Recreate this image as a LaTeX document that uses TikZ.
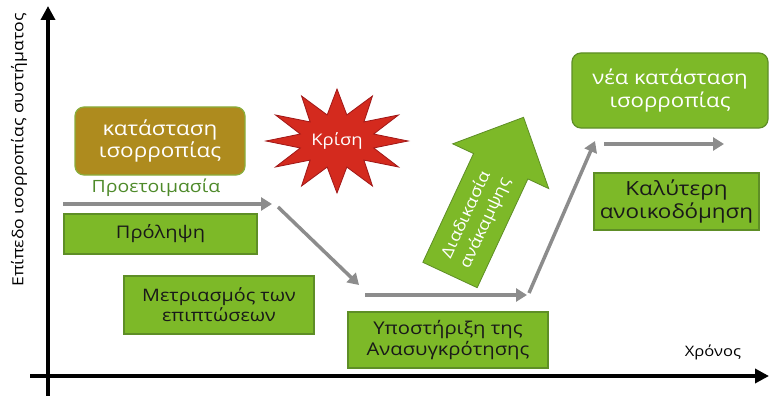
\documentclass[tikz,border=0pt]{standalone}
\usepackage{fontspec}
\setmainfont[FakeStretch=1.15]{Open Sans}
\usetikzlibrary{arrows.meta}
\definecolor{grn}{HTML}{7DB928}
\definecolor{grndark}{HTML}{5E8E26}
\definecolor{olive}{HTML}{AE8B1E}
\definecolor{olivebrd}{HTML}{8AAE3C}
\definecolor{starred}{HTML}{D42A1E}
\definecolor{stardark}{HTML}{A01818}
\definecolor{arrgray}{HTML}{8C8C8C}
\definecolor{prepgreen}{HTML}{4E8A2A}
\newcommand{\fsz}[1]{\fontsize{#1}{1.15\dimexpr #1pt\relax}\selectfont}
\tikzset{
  gbox/.style={fill=grn, draw=grndark, line width=1.2pt, text=black!90, align=center, inner sep=0pt},
  rbox/.style={gbox, rounded corners=9pt, text=white},
  garrow/.style={draw=arrgray, line width=3.5pt, -{Triangle[length=11pt,width=13pt]}},
  axis/.style={draw=black, line width=3.5pt},
}
\begin{document}
\begin{tikzpicture}[x=1pt,y=-1pt]
\path[use as bounding box] (0,0) rectangle (769,396);
% axes
\coordinate (yb) at (48,396);
\coordinate (yt) at (48,6);
\coordinate (xl) at (30,376);
\coordinate (xr) at (769,376);
\draw[axis,-{Triangle[length=14pt,width=14pt]}] (yb) -- (yt);
\draw[axis,-{Triangle[length=14pt,width=14pt]}] (xl) -- (xr);
\node[rotate=90, font=\fsz{15.3}] (ylab) at (19,150) {Επίπεδο ισορροπίας συστήματος};
\node[font=\fsz{14.4}] (xlab) at (713,352) {Χρόνος};
% boxes
\node[rbox, fill=olive, draw=olivebrd, minimum width=170pt, minimum height=68pt, font=\fsz{19.5}] (kat) at (160,141) {κατάσταση\\ισορροπίας};
\node[text=prepgreen, font=\fsz{16.9}] (prep) at (156,188) {Προετοιμασία};
\node[gbox, minimum width=193pt, minimum height=40pt, font=\fsz{17.4}] (prol) at (160.5,234) {Πρόληψη};
\node[gbox, minimum width=190pt, minimum height=58pt, font=\fsz{17.2}] (metr) at (219,305) {Μετριασμός των\\επιπτώσεων};
\node[gbox, minimum width=200pt, minimum height=56pt, font=\fsz{17.6}] (ypos) at (448,340) {Υποστήριξη της\\Ανασυγκρότησης};
\node[rbox, minimum width=196pt, minimum height=75pt, font=\fsz{19.3}] (nea) at (670,90.5) {νέα κατάσταση\\ισορροπίας};
\node[gbox, minimum width=165pt, minimum height=57pt, font=\fsz{19.5}] (kal) at (676.5,201.5) {Καλύτερη\\ανοικοδόμηση};
% star
\coordinate (starc) at (337,141);
\fill[starred, draw=stardark, line width=0.8pt] plot[domain=0:360, samples=25]
  ({337+(38+33*(1-mod(round(\x/15),2)))*cos(\x)}, {141+(27+25*(1-mod(round(\x/15),2)))*sin(\x)}) -- cycle;
\node[text=white, font=\fsz{16}] (kris) at (starc) {Κρίση};
% big recovery arrow
\begin{scope}[shift={(450,275)}, rotate=65]
\fill[grn, draw=grndark, line width=0.8pt] (0,-30) -- (120,-30) -- (120,-53) -- (174,0) -- (120,53) -- (120,30) -- (0,30) -- cycle;
\end{scope}
\node[rotate=65, text=white, align=center, font=\fontsize{16}{21}\selectfont] (diad) at (476,219) {Διαδικασία\\ανάκαμψης};
% gray arrows
\coordinate (a1s) at (63,204);
\coordinate (a1e) at (272,204);
\coordinate (a2s) at (278,207);
\coordinate (a2e) at (359,285);
\coordinate (a3s) at (365,295);
\coordinate (a3e) at (527,295);
\coordinate (a4s) at (529,293);
\coordinate (a4e) at (595,141);
\coordinate (a5s) at (604,144);
\coordinate (a5e) at (724,144);
\draw[garrow] (a1s) -- (a1e);
\draw[garrow] (a2s) -- (a2e);
\draw[garrow] (a3s) -- (a3e);
\draw[garrow] (a4s) -- (a4e);
\draw[garrow] (a5s) -- (a5e);
\end{tikzpicture}
\end{document}
